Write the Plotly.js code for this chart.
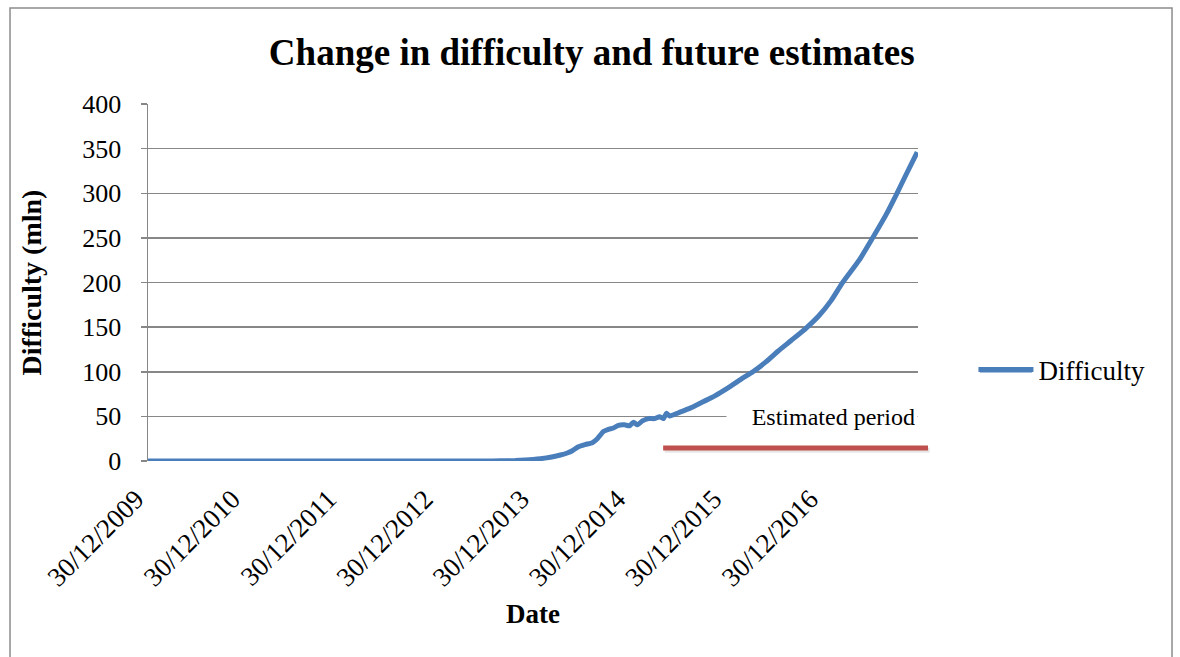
<!DOCTYPE html>
<html>
<head>
<meta charset="utf-8">
<script src="https://cdn.plot.ly/plotly-3.0.1.min.js"></script>
<style>html,body{margin:0;padding:0;background:#fff;}#chart{width:1180px;height:657px;}</style>
</head>
<body>
<div id="chart"></div>
<script>
// Data
const dates = [
  '2009-12-30','2010-06-30','2010-12-30','2011-06-30','2011-12-30','2012-06-30','2012-12-30',
  '2013-06-30','2013-08-27','2013-10-23','2013-11-30','2013-12-30','2014-01-26','2014-03-05',
  '2014-04-12','2014-05-08','2014-05-27','2014-06-19','2014-07-16','2014-08-11','2014-08-30',
  '2014-09-22','2014-10-11','2014-10-30','2014-11-18','2014-12-11','2014-12-30','2015-01-14',
  '2015-01-29','2015-02-17','2015-03-12','2015-04-04','2015-04-23','2015-05-08','2015-05-19',
  '2015-05-31','2015-07-12','2015-08-19','2015-09-26','2015-11-03','2015-12-11','2016-01-18',
  '2016-02-25','2016-04-11','2016-05-30','2016-07-15','2016-09-03','2016-10-30','2016-12-18',
  '2017-02-02','2017-03-15','2017-05-19','2017-07-07','2017-08-29','2017-10-06','2017-11-13',
  '2017-12-25'
];
const difficulty = [
  0,0,0,0,0,0,0,
  0.05,0.2,0.6,1.2,1.8,2.6,4.2,
  6.7,9,11.5,16,18.5,20.5,25,
  33,35.5,37,40,40.5,39.5,43.5,
  40.5,45,47.5,47.5,49.5,47.5,53.5,
  50.5,55,59.5,65,70.5,77,84,
  91.5,100,111,123,135,149,163,
  180,199,225,249,276,298,321,
  346
];
const seriesName = 'Difficulty';
const chartTitle = 'Change in difficulty and future estimates';
const xTitle = 'Date';
const yTitle = 'Difficulty (mln)';
const estimateLabel = 'Estimated period';
const estimateLevel = 14.6;

const serif = 'Liberation Serif';
const grid = '#878787';
const blue = '#4A7EBB';

const trace = {
  x: dates, y: difficulty, type: 'scatter', mode: 'lines', name: seriesName,
  line: {color: blue, width: 5, shape: 'spline', smoothing: 0.5}
};

const layout = {
  width: 1180, height: 657,
  margin: {l: 148, r: 262, t: 104, b: 196},
  paper_bgcolor: '#fff', plot_bgcolor: '#fff',
  font: {family: serif, color: '#000'},
  title: {text: '<b>' + chartTitle + '</b>', font: {family: serif, size: 37, color: '#000'},
          x: 0.5015, xanchor: 'center', y: 1 - 52/657, yanchor: 'middle', yref: 'container'},
  xaxis: {
    type: 'date', range: ['2009-12-30', '2017-12-28'],
    tick0: '2009-12-30', dtick: 'M12', tickformat: '%d/%m/%Y', tickangle: -45,
    tickfont: {family: serif, size: 27, color: '#000'}, ticklabelstandoff: 16, ticklabelshift: -12,
    showgrid: false, zeroline: false, showline: false, ticks: '',
    title: {text: '<b>' + xTitle + '</b>', font: {family: serif, size: 27, color: '#000'}, standoff: 12},
    automargin: false
  },
  yaxis: {
    range: [0, 400], dtick: 50, tick0: 0,
    tickfont: {family: serif, size: 26, color: '#000'}, ticklabelstandoff: 14,
    showgrid: true, gridcolor: grid, gridwidth: 1.5,
    zeroline: false, showline: true, linecolor: grid, linewidth: 1.5,
    ticks: 'outside', ticklen: 6, tickcolor: grid, tickwidth: 1.5,
    title: {text: '<b>' + yTitle + '</b>', font: {family: serif, size: 28, color: '#000'}, standoff: 32},
    automargin: false
  },
  showlegend: true,
  legend: {x: 1.072, xanchor: 'left', y: 0.255, yanchor: 'middle', itemwidth: 55,
           font: {family: serif, size: 27, color: '#000'}, bgcolor: 'rgba(0,0,0,0)'},
  shapes: [
    {type: 'rect', xref: 'paper', yref: 'paper', x0: -0.1792, x1: 1.3299, y0: -0.6, y1: 1.2689,
     line: {color: '#8c8c8c', width: 1.5}, fillcolor: 'rgba(0,0,0,0)', layer: 'below'},
    {type: 'line', xref: 'paper', yref: 'y', x0: 0.671, x1: 1.015, y0: estimateLevel - 2.5, y1: estimateLevel - 2.5,
     line: {color: 'rgba(0,0,0,0.10)', width: 5}, layer: 'above'},
    {type: 'line', xref: 'paper', yref: 'y', x0: 0.669, x1: 1.013, y0: estimateLevel, y1: estimateLevel,
     line: {color: '#C0504D', width: 5}, layer: 'above'},
    // extends the legend's line sample to the reference's longer swatch
    {type: 'line', xref: 'paper', yref: 'paper', x0: 1.0805, x1: 1.148, y0: 0.2549, y1: 0.2549,
     line: {color: blue, width: 5}, layer: 'above'}
  ],
  annotations: [
    {text: estimateLabel, xref: 'paper', yref: 'y', x: 1.0, xanchor: 'right', y: 49, yanchor: 'middle',
     showarrow: false, font: {family: serif, size: 24, color: '#000'},
     bgcolor: '#fff', width: 186, align: 'right', borderpad: 2}
  ]
};

Plotly.newPlot('chart', [trace], layout, {displayModeBar: false, staticPlot: true});
</script>
</body>
</html>
